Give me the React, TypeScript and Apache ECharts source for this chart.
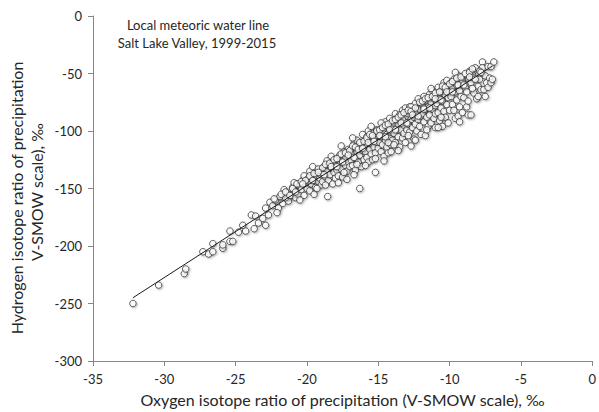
import React, { useEffect, useRef } from "react";
import * as echarts from "echarts";

// Axis ticks
const xTicks = [-35, -30, -25, -20, -15, -10, -5, 0];
const yTicks = [0, -50, -100, -150, -200, -250, -300];

// Precipitation samples [δ18O, δD]
const lowTail: [number, number][] = [
  [-32.2, -250], [-30.4, -234], [-28.6, -224], [-28.5, -220], [-27.3, -205],
  [-26.9, -207], [-26.6, -198], [-26.6, -205], [-25.9, -202], [-25.9, -199],
  [-25.4, -187], [-25.4, -196], [-25.2, -196], [-24.8, -188], [-24.5, -182],
  [-24.3, -187], [-23.9, -173], [-23.7, -185], [-23.6, -174], [-23.4, -180],
  [-23.1, -176], [-22.9, -182], [-22.7, -173], [-22.6, -162], [-22.9, -167],
];

const bandLow: [number, number][] = [
  [-22.4, -165], [-22.2, -160], [-22.0, -167], [-21.9, -157], [-21.7, -163],
  [-21.6, -151], [-21.4, -154], [-21.3, -161], [-21.1, -156], [-21.0, -149],
  [-22.1, -171], [-21.5, -158],
  [-20.9, -152], [-20.8, -158], [-20.7, -146], [-20.6, -155], [-20.5, -148],
  [-20.4, -151], [-20.3, -143], [-20.2, -156], [-20.1, -146], [-20.0, -150],
  [-20.9, -145], [-20.5, -160], [-20.2, -139], [-19.9, -145],
  [-19.9, -141], [-19.8, -152], [-19.7, -146], [-19.6, -137], [-19.5, -143],
  [-19.4, -149], [-19.3, -139], [-19.2, -144], [-19.1, -134], [-19.0, -147],
  [-19.8, -135], [-19.5, -155], [-19.3, -150], [-19.1, -141], [-19.0, -138],
  [-19.6, -131],
  [-18.9, -136], [-18.9, -144], [-18.8, -131], [-18.7, -140], [-18.6, -135],
  [-18.55, -157], [-18.5, -128], [-18.5, -143], [-18.4, -138], [-18.3, -132],
  [-18.2, -146], [-18.2, -126], [-18.1, -136], [-18.0, -141], [-18.0, -130],
  [-18.7, -147], [-18.3, -122], [-18.6, -126],
];

const bandMid: [number, number][] = [
  [-17.9, -134], [-17.9, -125], [-17.8, -139], [-17.7, -129], [-17.7, -121],
  [-17.6, -133], [-17.5, -126], [-17.5, -140], [-17.4, -118], [-17.3, -130],
  [-17.3, -123], [-17.2, -135], [-17.1, -127], [-17.1, -116], [-17.0, -131],
  [-17.0, -122], [-17.6, -113], [-17.8, -145], [-17.2, -142], [-17.4, -136],
  [-16.9, -125], [-16.9, -116], [-16.8, -130], [-16.8, -120], [-16.7, -111],
  [-16.6, -124], [-16.6, -134], [-16.5, -118], [-16.5, -108], [-16.4, -127],
  [-16.4, -114], [-16.3, -150], [-16.3, -121], [-16.2, -131], [-16.2, -110],
  [-16.1, -117], [-16.0, -125], [-16.0, -113], [-16.7, -138], [-16.1, -103],
  [-16.5, -129], [-16.8, -106],
  [-15.9, -118], [-15.9, -108], [-15.8, -123], [-15.8, -112], [-15.7, -100],
  [-15.7, -127], [-15.6, -116], [-15.6, -106], [-15.5, -120], [-15.5, -111],
  [-15.4, -102], [-15.4, -125], [-15.3, -114], [-15.3, -107], [-15.2, -136],
  [-15.2, -119], [-15.1, -110], [-15.1, -99], [-15.0, -115], [-15.0, -104],
  [-15.9, -130], [-15.5, -96], [-15.2, -124], [-15.8, -105],
  [-14.9, -110], [-14.9, -101], [-14.8, -118], [-14.8, -105], [-14.7, -96],
  [-14.7, -112], [-14.6, -122], [-14.6, -100], [-14.5, -108], [-14.5, -92],
  [-14.4, -114], [-14.4, -103], [-14.3, -97], [-14.3, -119], [-14.2, -106],
  [-14.2, -89], [-14.1, -101], [-14.1, -112], [-14.0, -95], [-14.0, -108],
  [-14.6, -126], [-14.3, -110], [-14.8, -93], [-14.1, -118],
];

const bandHigh: [number, number][] = [
  [-13.9, -102], [-13.9, -93], [-13.8, -85], [-13.8, -110], [-13.7, -98],
  [-13.7, -89], [-13.6, -105], [-13.6, -94], [-13.5, -114], [-13.5, -86],
  [-13.4, -99], [-13.4, -91], [-13.3, -106], [-13.3, -82], [-13.2, -95],
  [-13.2, -102], [-13.1, -88], [-13.1, -110], [-13.0, -93], [-13.0, -99],
  [-13.6, -117], [-13.3, -90], [-13.9, -112], [-13.1, -80],
  [-12.9, -94], [-12.9, -85], [-12.8, -101], [-12.8, -79], [-12.7, -113],
  [-12.7, -90], [-12.6, -97], [-12.6, -83], [-12.5, -107], [-12.5, -88],
  [-12.4, -76], [-12.4, -94], [-12.3, -84], [-12.3, -100], [-12.2, -90],
  [-12.2, -72], [-12.1, -96], [-12.1, -81], [-12.0, -87], [-12.0, -103],
  [-12.7, -79], [-12.4, -108], [-12.0, -76], [-12.9, -104],
  [-11.9, -85], [-11.9, -77], [-11.8, -92], [-11.8, -70], [-11.7, -104],
  [-11.7, -81], [-11.6, -88], [-11.6, -74], [-11.5, -96], [-11.5, -79],
  [-11.4, -68], [-11.4, -86], [-11.3, -75], [-11.3, -93], [-11.2, -81],
  [-11.2, -65], [-11.1, -89], [-11.1, -72], [-11.0, -78], [-11.0, -97],
  [-11.6, -99], [-11.3, -63], [-11.0, -85], [-11.8, -80],
];

const bandTop: [number, number][] = [
  [-10.9, -76], [-10.9, -68], [-10.8, -84], [-10.8, -62], [-10.7, -91],
  [-10.7, -72], [-10.6, -80], [-10.6, -65], [-10.5, -96], [-10.5, -74],
  [-10.4, -58], [-10.4, -83], [-10.3, -69], [-10.3, -88], [-10.2, -61],
  [-10.2, -77], [-10.1, -71], [-10.1, -93], [-10.0, -66], [-10.0, -82],
  [-10.5, -64], [-10.8, -97], [-10.2, -56], [-10.6, -88],
  [-9.9, -58], [-9.9, -70], [-9.8, -62], [-9.8, -77], [-9.7, -82],
  [-9.7, -55], [-9.6, -66], [-9.6, -89], [-9.5, -60], [-9.5, -73],
  [-9.4, -87], [-9.4, -52], [-9.3, -65], [-9.3, -79], [-9.2, -58],
  [-9.2, -70], [-9.1, -56], [-9.1, -84], [-9.0, -53], [-9.0, -71],
  [-9.6, -49], [-9.3, -92],
  [-8.9, -62], [-8.8, -79], [-8.7, -54], [-8.7, -74], [-8.7, -86],
  [-8.6, -48], [-8.5, -58], [-8.5, -86], [-8.4, -51], [-8.3, -54],
  [-8.3, -67], [-8.2, -45], [-8.1, -72], [-8.0, -61], [-8.0, -70],
  [-8.8, -66], [-8.4, -63], [-8.9, -51],
  [-7.9, -55], [-7.8, -64], [-7.7, -40], [-7.7, -45], [-7.6, -64],
  [-7.5, -52], [-7.4, -58], [-7.3, -62], [-7.3, -44], [-7.2, -54],
  [-7.1, -58], [-7.1, -44], [-7.0, -55], [-6.9, -40], [-7.5, -70],
  [-7.9, -48],
];

// Samples lying on and just above the water line
const bandUpper: [number, number][] = [
  [-22.3, -159], [-21.8, -155], [-21.5, -153], [-21.0, -150], [-20.7, -146],
  [-20.4, -144], [-20.1, -143], [-19.8, -139], [-19.5, -137], [-19.2, -133],
  [-18.9, -132], [-18.7, -129], [-18.4, -128], [-18.1, -125], [-17.9, -124],
  [-17.6, -120], [-17.3, -119], [-17.0, -117], [-16.8, -113], [-16.6, -114],
  [-16.3, -110], [-16.0, -109], [-15.8, -106], [-15.6, -103], [-15.4, -104],
  [-15.1, -100], [-14.9, -99], [-14.7, -97], [-14.5, -95], [-14.3, -94],
  [-14.0, -91], [-13.8, -90], [-13.6, -88], [-13.4, -86], [-13.2, -84],
  [-12.9, -82], [-12.7, -83], [-12.4, -80], [-12.1, -75], [-11.9, -74],
  [-11.7, -72], [-11.5, -71], [-11.2, -70], [-11.0, -67], [-10.7, -66],
  [-10.5, -61], [-10.3, -62], [-10.0, -59], [-9.8, -57], [-9.5, -54],
  [-9.2, -53], [-8.9, -50], [-8.6, -49], [-8.4, -46],
  [-21.2, -156], [-20.8, -153], [-20.3, -146], [-19.6, -143], [-19.2, -136],
  [-18.8, -138], [-18.3, -131], [-17.9, -131], [-17.5, -127], [-17.1, -121],
  [-16.7, -123], [-16.4, -116], [-16.1, -115], [-15.7, -110], [-15.3, -109],
  [-14.9, -104], [-14.5, -105], [-14.2, -99], [-13.8, -99], [-13.4, -93],
  [-13.0, -93], [-12.6, -86], [-12.2, -87], [-11.8, -81], [-11.4, -80],
  [-11.0, -72], [-10.6, -73], [-10.2, -66], [-9.8, -66], [-9.4, -60],
  [-9.0, -60], [-8.6, -53], [-8.2, -55], [-7.8, -49],
];

// Local meteoric water line end points
const lmwl: [number, number][] = [
  [-32.2, -245],
  [-7.0, -43.5],
];

const titleLines = ["Local meteoric water line", "Salt Lake Valley, 1999-2015"];
const xTitle = "Oxygen isotope ratio of precipitation (V-SMOW scale), ‰";
const yTitleLines = ["Hydrogen isotope ratio of precipitation", "V-SMOW scale), ‰"];

const FONT = "Lato, 'Open Sans', sans-serif";

export default function App() {
  const ref = useRef<HTMLDivElement>(null);

  useEffect(() => {
    if (!ref.current) return;
    const chart = echarts.init(ref.current, undefined, { renderer: "svg" });
    const samples = [
      ...lowTail,
      ...bandLow,
      ...bandMid,
      ...bandHigh,
      ...bandTop,
      ...bandUpper,
    ];
    chart.setOption({
      animation: false,
      textStyle: { fontFamily: FONT },
      grid: { left: 93, right: 4, top: 16, bottom: 50, containLabel: false },
      xAxis: {
        type: "value",
        min: xTicks[0],
        max: xTicks[xTicks.length - 1],
        interval: 5,
        axisLine: { onZero: false, lineStyle: { color: "#868686", width: 1 } },
        axisTick: { show: true, inside: false, length: 5, lineStyle: { color: "#868686" } },
        axisLabel: { color: "#262626", fontSize: 13, margin: 11, fontFamily: FONT },
        splitLine: { show: false },
        name: xTitle,
        nameLocation: "middle",
        nameGap: 30,
        nameTextStyle: { color: "#262626", fontSize: 16, fontFamily: FONT },
      },
      yAxis: {
        type: "value",
        min: yTicks[yTicks.length - 1],
        max: yTicks[0],
        interval: 50,
        axisLine: { onZero: false, lineStyle: { color: "#868686", width: 1 } },
        axisTick: { show: true, inside: false, length: 5, lineStyle: { color: "#868686" } },
        axisLabel: { color: "#262626", fontSize: 13, margin: 11, fontFamily: FONT },
        splitLine: { show: false },
      },
      graphic: [
        {
          type: "text",
          x: 198,
          y: 25,
          style: {
            text: titleLines[0],
            fill: "#262626",
            font: `13px ${FONT}`,
            textAlign: "center",
            textVerticalAlign: "middle",
          },
        },
        {
          type: "text",
          x: 197,
          y: 43,
          style: {
            text: titleLines[1],
            fill: "#262626",
            font: `13px ${FONT}`,
            textAlign: "center",
            textVerticalAlign: "middle",
          },
        },
        {
          type: "text",
          x: 16,
          y: 198,
          rotation: Math.PI / 2,
          style: {
            text: yTitleLines[0],
            fill: "#262626",
            font: `16px ${FONT}`,
            textAlign: "center",
            textVerticalAlign: "middle",
          },
        },
        {
          type: "text",
          x: 36,
          y: 192,
          rotation: Math.PI / 2,
          style: {
            text: yTitleLines[1],
            fill: "#262626",
            font: `16px ${FONT}`,
            textAlign: "center",
            textVerticalAlign: "middle",
          },
        },
      ],
      series: [
        {
          type: "scatter",
          data: samples,
          symbol: "circle",
          symbolSize: 6.5,
          itemStyle: {
            color: "#ffffff",
            borderColor: "#3a3a3a",
            borderWidth: 1,
            shadowBlur: 2,
            shadowOffsetX: 1,
            shadowOffsetY: 1,
            shadowColor: "rgba(0,0,0,0.35)",
          },
          z: 2,
        },
        {
          type: "line",
          data: lmwl,
          symbol: "none",
          lineStyle: { color: "#1a1a1a", width: 1 },
          z: 3,
        },
      ],
    });
    return () => chart.dispose();
  }, []);

  return (
    <div
      ref={ref}
      style={{ position: "absolute", left: 0, top: 0, width: 599, height: 412 }}
    />
  );
}
